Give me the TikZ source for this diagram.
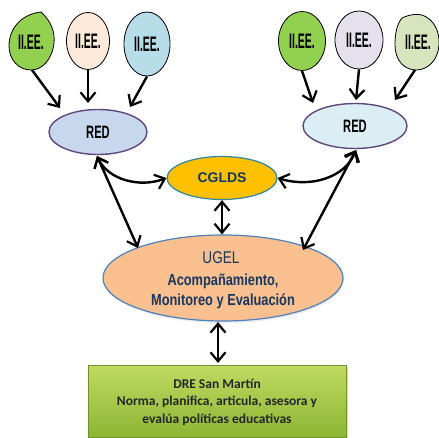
\documentclass[tikz,border=0pt]{standalone}
\usepackage{fontspec}
\setmainfont{Liberation Sans}
\newfontfamily\agency[FakeStretch=0.5]{Liberation Sans}
\newfontfamily\agencyr[FakeStretch=0.62]{Liberation Sans}
\newfontfamily\agencyb[FakeStretch=0.8]{Liberation Sans}
\newfontfamily\dre{Carlito}
\usetikzlibrary{arrows.meta,shapes.geometric,shadows}
\definecolor{leafgreen}{RGB}{146,208,80}
\definecolor{peach}{RGB}{253,234,218}
\definecolor{skyb}{RGB}{183,222,232}
\definecolor{lavender}{RGB}{229,224,236}
\definecolor{palegreen}{RGB}{215,228,189}
\definecolor{redleft}{RGB}{198,215,238}
\definecolor{redright}{RGB}{218,238,243}
\definecolor{purpleb}{RGB}{96,73,122}
\definecolor{gold}{RGB}{255,192,0}
\definecolor{tealb}{RGB}{49,133,156}
\definecolor{ugelfill}{RGB}{250,192,144}
\definecolor{ugelb}{RGB}{79,129,189}
\definecolor{navy}{RGB}{23,55,94}
\definecolor{dretop}{RGB}{192,218,98}
\definecolor{drebot}{RGB}{140,182,52}
\tikzset{
  iee/.style={ellipse,draw=black,line width=0.8pt,inner sep=0pt},
  ieetext/.style={font=\agency\bfseries\fontsize{21}{21}\selectfont,text=black},
  redel/.style={ellipse,draw=purpleb,line width=1.4pt,inner sep=0pt,
    font=\agencyr\bfseries\fontsize{18}{18}\selectfont},
  arr/.style={line width=2.4pt,-{Straight Barb[length=9pt,width=15pt,line width=2.2pt]}},
  darr/.style={line width=2.4pt,{Straight Barb[length=9pt,width=15pt,line width=2.2pt]}-{Straight Barb[length=9pt,width=15pt,line width=2.2pt]}},
}
\begin{document}
\begin{tikzpicture}[x=1pt,y=-1pt]
\useasboundingbox (0,0) rectangle (439,438);
% left II.EE.
\draw[fill=leafgreen,line width=0.8pt] (41,12) .. controls (52,22) and (55,33) .. (54,43)
  .. controls (52,60) and (42,70) .. (31,70) .. controls (18,70) and (9,59) .. (9,46)
  .. controls (9,28) and (22,14) .. (41,12) -- cycle;
\node[ieetext] (l1) at (31,42) {II.EE.};
\node[iee,fill=peach,minimum width=43pt,minimum height=57pt,ieetext] (l2) at (88,41) {II.EE.};
\node[iee,fill=skyb,minimum width=46pt,minimum height=64pt,ieetext] (l3) at (147,44) {II.EE.};
\coordinate (l1b) at (32,70);
% right II.EE.
\node[iee,fill=leafgreen,minimum width=47pt,minimum height=59pt,ieetext] (r1) at (302,41) {II.EE.};
\node[iee,fill=lavender,minimum width=48pt,minimum height=58pt,ieetext] (r2) at (359,40) {II.EE.};
\draw[fill=palegreen,line width=0.8pt] (402,18) .. controls (410,14) and (418,14) .. (422,15)
  .. controls (434,19) and (440,32) .. (439,45) .. controls (438,60) and (428,70) .. (416,70)
  .. controls (404,70) and (395,60) .. (395,45) .. controls (395,33) and (397,24) .. (402,18) -- cycle;
\node[ieetext] (r3) at (418,42) {II.EE.};
\coordinate (r3b) at (415,70);
% RED nodes
\node[redel,fill=redleft,minimum width=98pt,minimum height=45pt] (redl) at (98,132) {RED};
\node[redel,fill=redright,minimum width=104pt,minimum height=45pt] (redr) at (355,126) {RED};
% CGLDS
\node[ellipse,draw=tealb,line width=1.2pt,fill=gold,minimum width=110pt,minimum height=43pt,
  inner sep=0pt,font=\bfseries\fontsize{14}{14}\selectfont,text=navy] (cg) at (222,178) {CGLDS};
% UGEL
\node[ellipse,draw=ugelb,line width=1.2pt,fill=ugelfill,minimum width=240pt,minimum height=86pt,
  inner sep=0pt,drop shadow={opacity=0.15,shadow xshift=1pt,shadow yshift=-2pt}] (ugel) at (223,278) {};
\node[font=\agencyb\fontsize{17}{17}\selectfont,text=navy] (u1) at (221,258) {UGEL};
\node[font=\agencyb\bfseries\fontsize{16}{16}\selectfont,text=navy] (u2) at (223,281) {Acompañamiento,};
\node[font=\agencyb\bfseries\fontsize{16}{16}\selectfont,text=navy] (u3) at (223,301) {Monitoreo y Evaluación};
% DRE
\node[draw=drebot!80!black,line width=0.4pt,top color=dretop,bottom color=drebot,
  minimum width=258pt,minimum height=72pt,inner sep=0pt,
  drop shadow={opacity=0.3,shadow xshift=2pt,shadow yshift=-2pt}] (dre) at (217,401) {};
\node[font=\dre\bfseries\fontsize{13.5}{17.5}\selectfont,text=black!85,align=center] (dret) at (217,402)
  {DRE San Martín\\Norma, planifica, articula, asesora y\\evalúa políticas educativas};
% arrows to RED
\draw[arr] (l1b) -- (60,108);
\draw[arr] (l2.south) -- (88,103);
\draw[arr] (l3.south) -- (130,107);
\draw[arr] (r1.south) -- (313,103);
\draw[arr] (r2.south) -- (356,100);
\draw[arr] (r3b) -- (395,100);
% connections
\coordinate (lA) at (97,156);
\coordinate (rA) at (356,150);
\draw[darr] (lA) .. controls (108,180) and (140,188) .. (cg.west);
\draw[darr] (lA) -- (138,248);
\draw[darr] (rA) .. controls (345,178) and (310,188) .. (cg.east);
\draw[darr] (rA) -- (303,250);
\draw[darr] (cg.south) -- (ugel.north -| cg.south);
\draw[darr] (218,322) -- (218,363);
\end{tikzpicture}
\end{document}
